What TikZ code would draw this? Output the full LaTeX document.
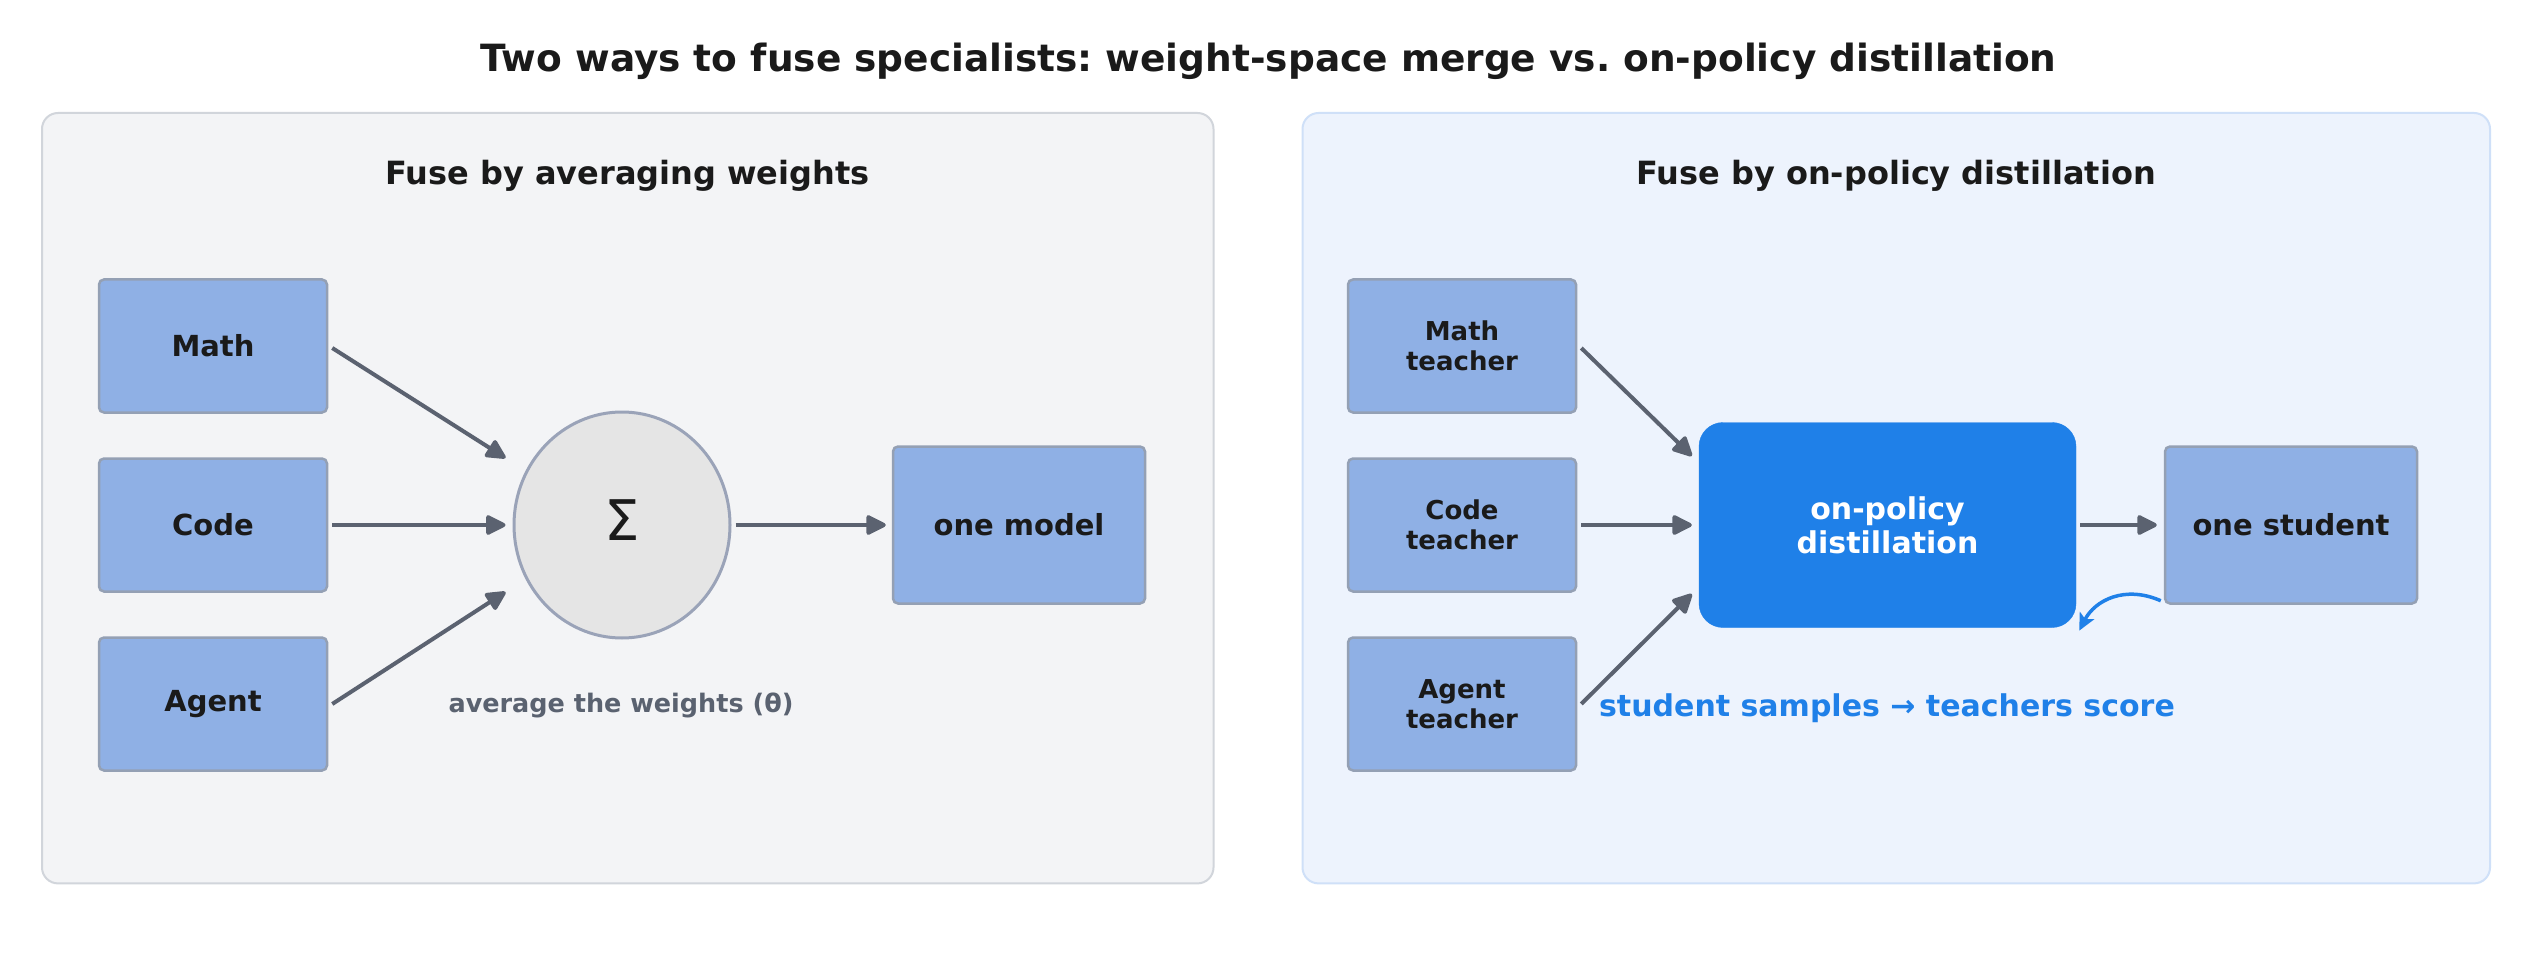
\documentclass[tikz,border=0pt]{standalone}
\usepackage{fontspec}
\setmainfont{DejaVu Sans}
\usetikzlibrary{arrows.meta,shapes.geometric,calc}
\frenchspacing
\definecolor{panelLfill}{HTML}{F3F4F6}
\definecolor{panelLdraw}{HTML}{D1D5DB}
\definecolor{panelRfill}{HTML}{EDF3FD}
\definecolor{panelRdraw}{HTML}{CFE0F8}
\definecolor{boxfill}{HTML}{8FB0E5}
\definecolor{boxdraw}{HTML}{94A0B4}
\definecolor{darktext}{HTML}{1A1A1A}
\definecolor{arrowgray}{HTML}{5B6270}
\definecolor{sigfill}{HTML}{E5E5E5}
\definecolor{sigdraw}{HTML}{9AA3B8}
\definecolor{accent}{HTML}{1F80E8}
\definecolor{graytext}{HTML}{5A6270}
\tikzset{
  panel/.style={rounded corners=16pt, line width=2pt},
  spec/.style={draw=boxdraw, fill=boxfill, line width=2.5pt, rounded corners=5pt,
    minimum width=228pt, minimum height=133pt, inner sep=0pt, text=darktext,
    font=\fontsize{29}{34}\selectfont\bfseries, align=center},
  teach/.style={spec, font=\fontsize{26}{30}\selectfont\bfseries},
  outbox/.style={spec, minimum width=252pt, minimum height=157pt},
  flow/.style={draw=arrowgray, line width=4pt, -{Triangle[length=22pt,width=21pt,round]}},
  ptitle/.style={text=darktext, font=\fontsize{32}{38}\selectfont\bfseries},
}
\begin{document}
\begin{tikzpicture}[x=1pt,y=-1pt]
\useasboundingbox (0,0) rectangle (2537,957);
\fill[white] (0,0) rectangle (2537,957);
% title
\node[text=darktext, font=\fontsize{37.5}{44}\selectfont\bfseries] (title) at (1268.5,61) {Two ways to fuse specialists: weight-space merge vs. on-policy distillation};
% panels
\draw[panel, fill=panelLfill, draw=panelLdraw] (42,113) rectangle (1213.5,883.4);
\draw[panel, fill=panelRfill, draw=panelRdraw] (1302.5,113) rectangle (2490,883.4);
\node[ptitle] (tl) at (627.5,176) {Fuse by averaging weights};
\node[ptitle] (tr) at (1896,176) {Fuse by on-policy distillation};
% left panel
\node[spec] (math) at (213,346) {Math};
\node[spec] (code) at (213,525) {Code};
\node[spec] (agent) at (213,704) {Agent};
\node[ellipse, draw=sigdraw, fill=sigfill, line width=3pt, minimum width=216pt, minimum height=226pt, inner sep=0pt] (sig) at (622,525) {};
\node[text=darktext, font=\fontsize{56}{60}\selectfont] (sigma) at (622,520) {Σ};
\node[outbox] (model) at (1019,525) {one model};
\node[text=graytext, font=\fontsize{25.5}{30}\selectfont\bfseries] (avg) at (621,705) {average the weights (θ)};
\coordinate (sigM) at ($(sig.west)+(-7,-67)$);
\coordinate (sigC) at ($(sig.west)+(-7,0)$);
\coordinate (sigA) at ($(sig.west)+(-7,67)$);
\draw[flow] ($(math.east)+(4,2)$) -- (sigM);
\draw[flow] ($(code.east)+(4,0)$) -- (sigC);
\draw[flow] ($(agent.east)+(4,0)$) -- (sigA);
\draw[flow] ($(sig.east)+(4,0)$) -- ($(model.west)+(-6,0)$);
% right panel
\node[teach] (mt) at (1462,346) {Math\\teacher};
\node[teach] (ct) at (1462,525) {Code\\teacher};
\node[teach] (at) at (1462,704) {Agent\\teacher};
\node[fill=accent, draw=accent, rounded corners=24pt, minimum width=377pt, minimum height=205pt, inner sep=0pt, text=white, align=center, font=\fontsize{30}{34}\selectfont\bfseries] (opd) at (1887.5,525) {on-policy\\distillation};
\node[outbox] (student) at (2291,525) {one student};
\draw[flow] ($(mt.east)+(4,2)$) -- ($(opd.west)+(-7,-69)$);
\draw[flow] ($(ct.east)+(4,0)$) -- ($(opd.west)+(-7,0)$);
\draw[flow] ($(at.east)+(4,0)$) -- ($(opd.west)+(-7,69)$);
\draw[flow] ($(opd.east)+(4,0)$) -- ($(student.west)+(-7,0)$);
\draw[accent, line width=3.5pt, -{Stealth[length=17pt,width=16pt,inset=4pt]}] ($(student.south west)+(-3,-4)$) .. controls (2125,585) and (2095,600) .. ($(opd.south east)+(3,3)$);
\node[text=accent, font=\fontsize{30}{34}\selectfont\bfseries] (note) at (1887,708) {student samples → teachers score};
\end{tikzpicture}
\end{document}
